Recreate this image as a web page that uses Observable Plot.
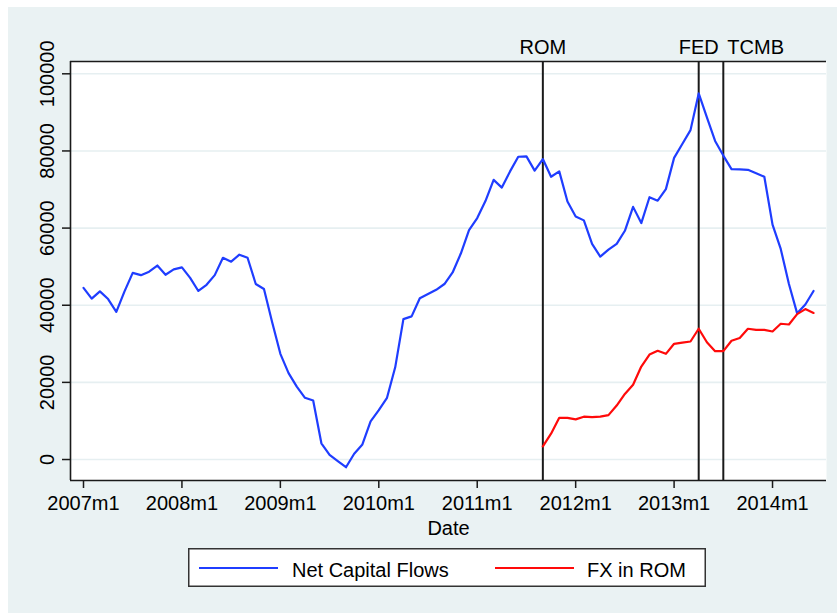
<!DOCTYPE html>
<html>
<head>
<meta charset="utf-8">
<script src="https://cdn.jsdelivr.net/npm/d3@7"></script>
<script src="https://cdn.jsdelivr.net/npm/@observablehq/plot@0.6"></script>
<style>
  body { margin: 0; background: #ffffff; }
  #wrap { position: relative; width: 837px; height: 615px; overflow: hidden;
          font-family: "Liberation Sans", Arial, Helvetica, sans-serif; }
  #panel { position: absolute; left: 8px; top: 7px; width: 829px; height: 606px; background: #eaf2f3; }
  #chart { position: absolute; left: 0; top: 0; }
  #legend { position: absolute; left: 188px; top: 548px; }
</style>
</head>
<body>
<div id="wrap">
  <div id="panel"></div>
  <div id="chart"></div>
  <div id="legend"></div>
</div>
<script>
// ---- Data (monthly, 2007m1 .. 2014m6) ----
const startYear = 2007;
const nMonths = 90;
const months = [];
for (let i = 0; i < nMonths; i++) months.push(`${startYear + Math.floor(i / 12)}m${(i % 12) + 1}`);

const netCapitalFlows = [
  44500, 41700, 43600, 41600, 38300, 43600, 48400, 47800, 48700, 50300, 47900, 49300,
  49800, 47100, 43700, 45300, 47800, 52300, 51300, 53100, 52300, 45500, 44200, 35600,
  27400, 22400, 18900, 16000, 15300, 4200, 1200, -400, -2000, 1500, 3900, 9900,
  12800, 16000, 23900, 36400, 37100, 41800, 42900, 44000, 45500, 48500, 53400, 59500,
  62600, 67000, 72500, 70500, 74700, 78500, 78600, 74900, 77900, 73300, 74700, 66900,
  63000, 62000, 55900, 52600, 54400, 55900, 59300, 65500, 61300, 68000, 67100, 70100,
  78200, 81800, 85400, 94900, 88700, 82600, 78800, 75300, 75200, 75100, 74200, 73300,
  60900, 54600, 45500, 37900, 40200, 43700
];

const fxStart = "2011m9";
const fxInROM = [
  3400, 6700, 10800, 10800, 10400, 11100, 11000, 11100, 11500, 14000, 17000, 19400,
  24100, 27200, 28200, 27400, 30000, 30300, 30600, 33900, 30400, 28100, 28100, 30800,
  31500, 33900, 33600, 33600, 33200, 35200, 35000, 37700, 39000, 38000
];

const eventNames = ["ROM", "FED", "TCMB"];
const eventMonths = ["2011m9", "2013m4", "2013m7"];

const xTickLabels = ["2007m1", "2008m1", "2009m1", "2010m1", "2011m1", "2012m1", "2013m1", "2014m1"];
const yTicks = [0, 20000, 40000, 60000, 80000, 100000];

const seriesNames = ["Net Capital Flows", "FX in ROM"];
const seriesColors = ["#1f3dff", "#ff0a0a"];

// ---- Build tables ----
const idx = m => months.indexOf(m);
const flows = netCapitalFlows.map((v, i) => ({t: i, v}));
const fx = fxInROM.map((v, j) => ({t: idx(fxStart) + j, v}));
const events = eventNames.map((name, k) => ({name, t: idx(eventMonths[k])}));
const xTicks = xTickLabels.map(idx);

const xDomain = [-1.585, 90.58];
const yDomain = [-5440, 103190];
const ink = "#1a1a1a";
const font = "Liberation Sans, Arial, Helvetica, sans-serif";

const chart = Plot.plot({
  width: 837,
  height: 615,
  marginLeft: 70,
  marginRight: 11,
  marginTop: 61,
  marginBottom: 135,
  style: {background: "transparent", fontFamily: font, fontSize: "20px", color: "#000"},
  x: {domain: xDomain, axis: null, label: null},
  y: {domain: yDomain, axis: null, label: null},
  marks: [
    Plot.frame({fill: "white"}),
    Plot.gridY(yTicks, {stroke: "#e6eff1", strokeOpacity: 1, strokeWidth: 1.6}),
    Plot.ruleX(events, {x: "t", stroke: ink, strokeWidth: 2}),
    Plot.line(flows, {x: "t", y: "v", stroke: seriesColors[0], strokeWidth: 2.2}),
    Plot.line(fx, {x: "t", y: "v", stroke: seriesColors[1], strokeWidth: 2.2}),
    Plot.ruleX([xDomain[0]], {stroke: ink, strokeWidth: 1.6}),
    Plot.ruleY([yDomain[0], yDomain[1]], {stroke: ink, strokeWidth: 1.6}),
    Plot.axisX(xTicks, {anchor: "bottom", tickSize: 8, tickPadding: 7, fontSize: 20,
      tickFormat: i => months[i], stroke: ink, strokeWidth: 1.5, label: null}),
    Plot.axisY(yTicks, {anchor: "left", tickSize: 8, tickFormat: () => "", stroke: ink,
      strokeWidth: 1.5, label: null}),
    Plot.text(yTicks, {y: d => d, text: d => String(d), frameAnchor: "left", dx: -17,
      rotate: -90, lineAnchor: "bottom", textAnchor: "middle", fontSize: 20, fill: "#000"}),
    Plot.text(events.filter(e => e.name !== "TCMB"), {x: "t", text: "name", frameAnchor: "top",
      dy: -8, lineAnchor: "bottom", fontSize: 20, fill: "#000"}),
    Plot.text(events.filter(e => e.name === "TCMB"), {x: "t", text: "name", frameAnchor: "top",
      dy: -8, dx: 4, textAnchor: "start", lineAnchor: "bottom", fontSize: 20, fill: "#000"}),
    Plot.text(["Date"], {frameAnchor: "bottom", dy: 54, lineAnchor: "bottom", fontSize: 20, fill: "#000"})
  ]
});
document.getElementById("chart").appendChild(chart);

// ---- Legend ----
const lg = d3.select("#legend").append("svg").attr("width", 520).attr("height", 41)
  .style("font-family", font);
lg.append("rect").attr("x", 0.75).attr("y", 0.75).attr("width", 516.5).attr("height", 37.5)
  .attr("fill", "white").attr("stroke", "#333").attr("stroke-width", 1.5);
const items = [{x1: 11, x2: 90, tx: 104}, {x1: 307, x2: 386, tx: 399}];
items.forEach((it, k) => {
  lg.append("line").attr("x1", it.x1).attr("x2", it.x2).attr("y1", 20).attr("y2", 20)
    .attr("stroke", seriesColors[k]).attr("stroke-width", 2.2);
  lg.append("text").attr("x", it.tx).attr("y", 29).attr("font-size", 20).attr("fill", "#000")
    .text(seriesNames[k]);
});
</script>
</body>
</html>
